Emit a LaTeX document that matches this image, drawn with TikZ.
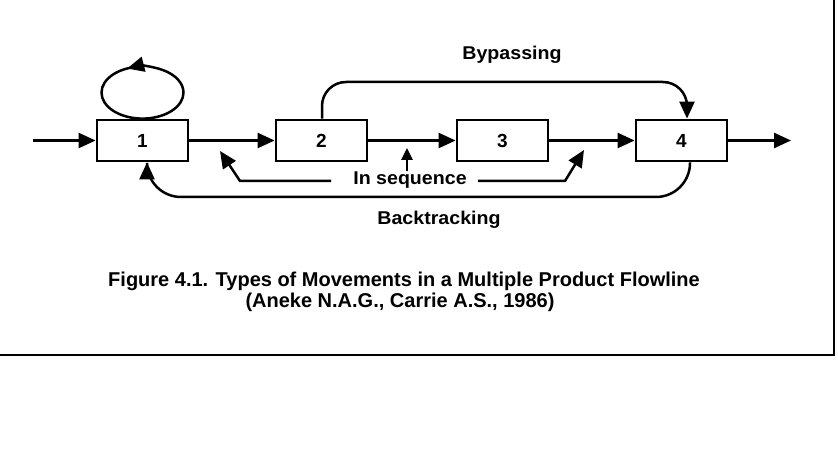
\documentclass[tikz,border=0pt]{standalone}
\usepackage{fontspec}
\setmainfont{Liberation Sans}
\usetikzlibrary{arrows.meta}
\begin{document}
\begin{tikzpicture}[x=1pt,y=-1pt,line width=2.5pt,
  box/.style={draw,line width=2.8pt,minimum width=91pt,minimum height=41pt,inner sep=0pt,
    font=\bfseries\fontsize{19}{22}\selectfont},
  arr/.style={-{Triangle[length=17pt,width=15pt]}},
  sarr/.style={-{Triangle[length=12pt,width=11pt]}},
  lbl/.style={anchor=base,inner sep=0pt,xscale=1.06,font=\bfseries\fontsize{18.5}{21}\selectfont},
  captext/.style={anchor=base,inner sep=0pt,font=\bfseries\fontsize{20}{24}\selectfont}]
\useasboundingbox (0,0) rectangle (838,449);
% frame
\draw[line width=2.5pt] (0,355) -- (834,355) -- (834,0);
% boxes
\node[box] (b1) at (142.5,140.5) {1};
\node[box] (b2) at (321.5,140.5) {2};
\node[box] (b3) at (502.5,140.5) {3};
\node[box] (b4) at (681.5,140.5) {4};
\coordinate (in) at (33,140.5);
\coordinate (out) at (791,140.5);
% main flow
\draw[arr] (in) -- (b1);
\draw[arr] (b1) -- (b2);
\draw[arr] (b2) -- (b3);
\draw[arr] (b3) -- (b4);
\draw[arr] (b4) -- (out);
% loop
\draw[arr] (b1.north) arc[start angle=90,end angle=-112,x radius=41,y radius=26];
\draw (b1.north) arc[start angle=90,end angle=270,x radius=41,y radius=26];
% bypassing
\coordinate (bpL) at (322,82);
\coordinate (bpR) at (687,82);
\draw[arr,rounded corners=24pt] (b2.north -| bpL) -- (bpL) -- (bpR) -- (b4.north -| bpR);
\node[lbl] (tb) at (512,60) {Bypassing};
% backtracking
\coordinate (btR) at (690,197);
\coordinate (btL) at (147,197);
\draw[arr,rounded corners=34pt] (b4.south -| btR) -- (btR) -- (btL) -- (b1.south -| btL);
\node[lbl] (tbt) at (439,225) {Backtracking};
% in sequence
\node[lbl] (ts) at (410,185) {In sequence};
\coordinate (sL1) at (331,181);
\coordinate (sL2) at (240,181);
\coordinate (sLt) at (220,151);
\coordinate (sR1) at (478,181);
\coordinate (sR2) at (565,181);
\coordinate (sRt) at (584,150);
\coordinate (sMt) at (407,148);
\draw[arr] (sL1) -- (sL2) -- (sLt);
\draw[arr] (sR1) -- (sR2) -- (sRt);
\draw[sarr] (ts.north -| sMt) -- (sMt);
% caption
\node[captext] (c1) at (404,287) {Figure 4.1. Types of Movements in a Multiple Product Flowline};
\node[captext] (c2) at (400,307) {(Aneke N.A.G., Carrie A.S., 1986)};
\end{tikzpicture}
\end{document}
